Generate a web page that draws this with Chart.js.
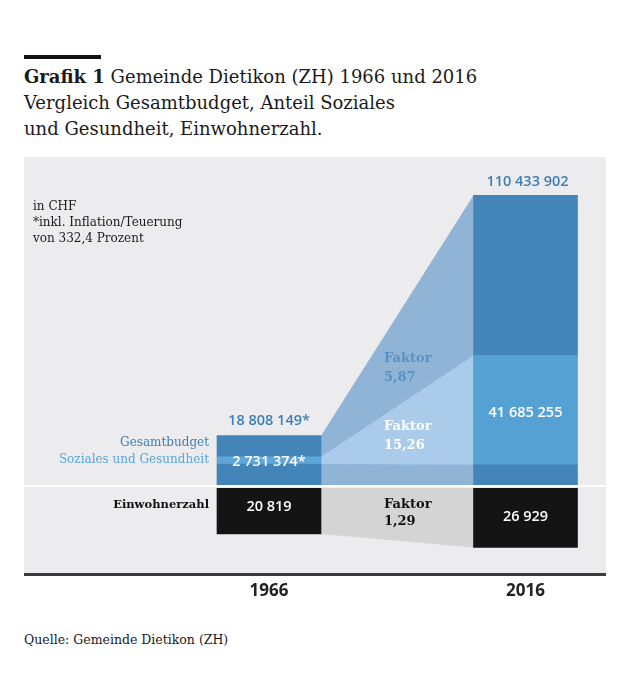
<!DOCTYPE html>
<html>
<head>
<meta charset="utf-8">
<script src="https://cdn.jsdelivr.net/npm/chart.js@4/dist/chart.umd.min.js"></script>
<style>
    body { margin: 0; width: 620px; height: 698px; position: relative; overflow: hidden; background: #fff; font-family: 'DejaVu Serif', serif; color: #1a1a1a; }
    #rule { position: absolute; left: 24px; top: 55px; width: 77px; height: 4px; background: #111; }
    #title { position: absolute; left: 24px; top: 64px; font-size: 18px; line-height: 26px; }
    #panel { position: absolute; left: 24px; top: 157px; width: 582px; height: 417px; background: #ececee; }
    #wrapA { position: absolute; left: 24px; top: 157px; width: 582px; height: 329px; }
    #sep { position: absolute; left: 24px; top: 485px; width: 582px; height: 2px; background: #fff; }
    #wrapB { position: absolute; left: 24px; top: 488px; width: 582px; height: 124px; }
    #axisline { position: absolute; left: 24px; top: 573px; width: 582px; height: 3px; background: #3c3c3c; }
    #source { position: absolute; left: 24px; top: 632px; font-size: 12.5px; }
</style>
</head>
<body>
<div id="rule"></div>
<div id="title"><b>Grafik 1</b> Gemeinde Dietikon (ZH) 1966 und 2016<br>Vergleich Gesamtbudget, Anteil Soziales<br>und Gesundheit, Einwohnerzahl.</div>
<div id="panel"></div>
<div id="wrapA"><canvas id="budgetChart"></canvas></div>
<div id="sep"></div>
<div id="wrapB"><canvas id="einwohnerChart"></canvas></div>
<div id="axisline"></div>
<div id="source">Quelle: Gemeinde Dietikon (ZH)</div>

<script>
// Daten
const jahre = ['1966', '2016'];
const gesamtbudget = [18808149, 110433902];
const sozialesGesundheit = [2731374, 41685255];
const budgetSockel = [8000000, 7700000]; // unteres Band des Budgets (aus der Grafik geschaetzt)
const einwohner = [20819, 26929];

const restBudget = gesamtbudget.map((v, i) => v - sozialesGesundheit[i] - budgetSockel[i]);

const zahl = v => String(v).replace(/\B(?=(\d{3})+(?!\d))/g, ' ');
const faktor = arr => (arr[1] / arr[0]).toFixed(2).replace('.', ',');

const SERIF = "'DejaVu Serif', serif";
const SANS = "'Open Sans', sans-serif";

function text(ctx, str, x, y, font, color, align) {
    ctx.font = font;
    ctx.fillStyle = color;
    ctx.textAlign = align || 'center';
    ctx.textBaseline = 'middle';
    ctx.fillText(str, x, y);
}

// Verbindungsflaechen zwischen den Balken
const budgetVerbindung = {
    id: 'budgetVerbindung',
    beforeDatasetsDraw(chart) {
        const ctx = chart.ctx;
        const unten = chart.getDatasetMeta(0).data;
        const sozial = chart.getDatasetMeta(1).data;
        const oben = chart.getDatasetMeta(2).data;
        const ax = unten[0].x + unten[0].width / 2;
        const bx = unten[1].x - unten[1].width / 2;
        ctx.save();
        // ganzes Budget
        ctx.fillStyle = '#8fb4d6';
        ctx.beginPath();
        ctx.moveTo(ax, oben[0].y);
        ctx.lineTo(bx, oben[1].y);
        ctx.lineTo(bx, unten[1].base);
        ctx.lineTo(ax, unten[0].base);
        ctx.closePath();
        ctx.fill();
        // Soziales und Gesundheit
        ctx.fillStyle = '#aacbe9';
        ctx.beginPath();
        ctx.moveTo(ax, sozial[0].y);
        ctx.lineTo(bx, sozial[1].y);
        ctx.lineTo(bx, sozial[1].base);
        ctx.lineTo(ax, sozial[0].base);
        ctx.closePath();
        ctx.fill();
        ctx.restore();
    },
    afterDatasetsDraw(chart) {
        const ctx = chart.ctx;
        const sozial = chart.getDatasetMeta(1).data;
        const oben = chart.getDatasetMeta(2).data;
        const a = oben[0], b = oben[1];
        const links = a.x - a.width / 2 - 8;
        const mitte = a.x + a.width / 2 + 63;
        ctx.save();
        // Anmerkungen
        text(ctx, 'in CHF', 9, 50, '12px ' + SERIF, '#1a1a1a', 'left');
        text(ctx, '*inkl. Inflation/Teuerung', 9, 66, '12px ' + SERIF, '#1a1a1a', 'left');
        text(ctx, 'von 332,4 Prozent', 9, 82, '12px ' + SERIF, '#1a1a1a', 'left');
        // Kategorien links
        text(ctx, 'Gesamtbudget', links, sozial[0].y - 14, '12px ' + SERIF, '#3d7fb5', 'right');
        text(ctx, 'Soziales und Gesundheit', links, sozial[0].y + 3, '12px ' + SERIF, '#5aa6da', 'right');
        // Werte
        text(ctx, zahl(gesamtbudget[0]) + '*', a.x, a.y - 15, '600 14.5px ' + SANS, '#3d7fb5');
        text(ctx, zahl(gesamtbudget[1]), b.x + 2, b.y - 13, '600 14.5px ' + SANS, '#3d7fb5');
        text(ctx, zahl(sozialesGesundheit[0]) + '*', a.x, (sozial[0].y + sozial[0].base) / 2 + 1, '600 14.5px ' + SANS, '#ffffff');
        text(ctx, zahl(sozialesGesundheit[1]), b.x, (sozial[1].y + sozial[1].base) / 2 + 3, '600 14.5px ' + SANS, '#ffffff');
        // Faktoren
        text(ctx, 'Faktor', mitte, sozial[1].y + 3, 'bold 13px ' + SERIF, '#5a91c4', 'left');
        text(ctx, faktor(gesamtbudget), mitte, sozial[1].y + 22, 'bold 13px ' + SERIF, '#5a91c4', 'left');
        text(ctx, 'Faktor', mitte, sozial[1].base - 38, 'bold 13px ' + SERIF, '#ffffff', 'left');
        text(ctx, faktor(sozialesGesundheit), mitte, sozial[1].base - 19, 'bold 13px ' + SERIF, '#ffffff', 'left');
        ctx.restore();
    }
};

const einwohnerVerbindung = {
    id: 'einwohnerVerbindung',
    beforeDatasetsDraw(chart) {
        const ctx = chart.ctx;
        const [a, b] = chart.getDatasetMeta(0).data;
        const ax = a.x + a.width / 2, bx = b.x - b.width / 2;
        ctx.save();
        ctx.fillStyle = '#d4d4d5';
        ctx.beginPath();
        ctx.moveTo(ax, a.base);
        ctx.lineTo(bx, b.base);
        ctx.lineTo(bx, b.y);
        ctx.lineTo(ax, a.y);
        ctx.closePath();
        ctx.fill();
        ctx.restore();
    },
    afterDatasetsDraw(chart) {
        const ctx = chart.ctx;
        const [a, b] = chart.getDatasetMeta(0).data;
        const mitte = a.x + a.width / 2 + 63;
        ctx.save();
        text(ctx, 'Einwohnerzahl', a.x - a.width / 2 - 8, a.base + 17, 'bold 11.5px ' + SERIF, '#111', 'right');
        text(ctx, zahl(einwohner[0]), a.x, (a.y + a.base) / 2 - 4, '600 14.5px ' + SANS, '#ffffff');
        text(ctx, zahl(einwohner[1]), b.x, (b.y + b.base) / 2 - 1, '600 14.5px ' + SANS, '#ffffff');
        text(ctx, 'Faktor', mitte, a.base + 17, 'bold 13px ' + SERIF, '#111', 'left');
        text(ctx, faktor(einwohner), mitte, a.base + 34, 'bold 13px ' + SERIF, '#111', 'left');
        ctx.restore();
    }
};

const gemeinsam = {
    responsive: true,
    maintainAspectRatio: false,
    animation: false,
    events: [],
    plugins: { legend: { display: false }, tooltip: { enabled: false } }
};

new Chart(document.getElementById('budgetChart').getContext('2d'), {
    type: 'bar',
    data: {
        labels: jahre,
        datasets: [
            { label: 'Budget (unten)', data: budgetSockel, backgroundColor: '#4385b9' },
            { label: 'Soziales und Gesundheit', data: sozialesGesundheit, backgroundColor: ['#5ea7da', '#56a1d4'] },
            { label: 'Gesamtbudget', data: restBudget, backgroundColor: '#4385b9' }
        ].map(ds => Object.assign(ds, { barThickness: 104, borderWidth: 0, clip: false }))
    },
    options: {
        ...gemeinsam,
        layout: { padding: { left: 245, right: 80.5, top: 0, bottom: 1 } },
        scales: {
            x: { display: false, offset: false, stacked: true },
            y: { display: false, stacked: true, min: 0, max: 125000000 }
        }
    },
    plugins: [budgetVerbindung]
});

new Chart(document.getElementById('einwohnerChart').getContext('2d'), {
    type: 'bar',
    data: {
        labels: jahre,
        datasets: [{
            label: 'Einwohnerzahl',
            data: einwohner,
            backgroundColor: '#141414',
            barThickness: 104,
            borderWidth: 0,
            clip: false
        }]
    },
    options: {
        ...gemeinsam,
        layout: { padding: { left: 245, right: 80.5, top: 0, bottom: 0 } },
        scales: {
            x: {
                offset: false,
                grid: { display: false },
                border: { display: false },
                ticks: { font: { family: 'Open Sans', weight: 'bold', size: 17 }, color: '#222', padding: 1, maxRotation: 0 },
                afterFit(scale) { scale.height = 40; }
            },
            y: { display: false, reverse: true, min: 0, max: 38000 }
        }
    },
    plugins: [einwohnerVerbindung]
});
</script>
</body>
</html>
